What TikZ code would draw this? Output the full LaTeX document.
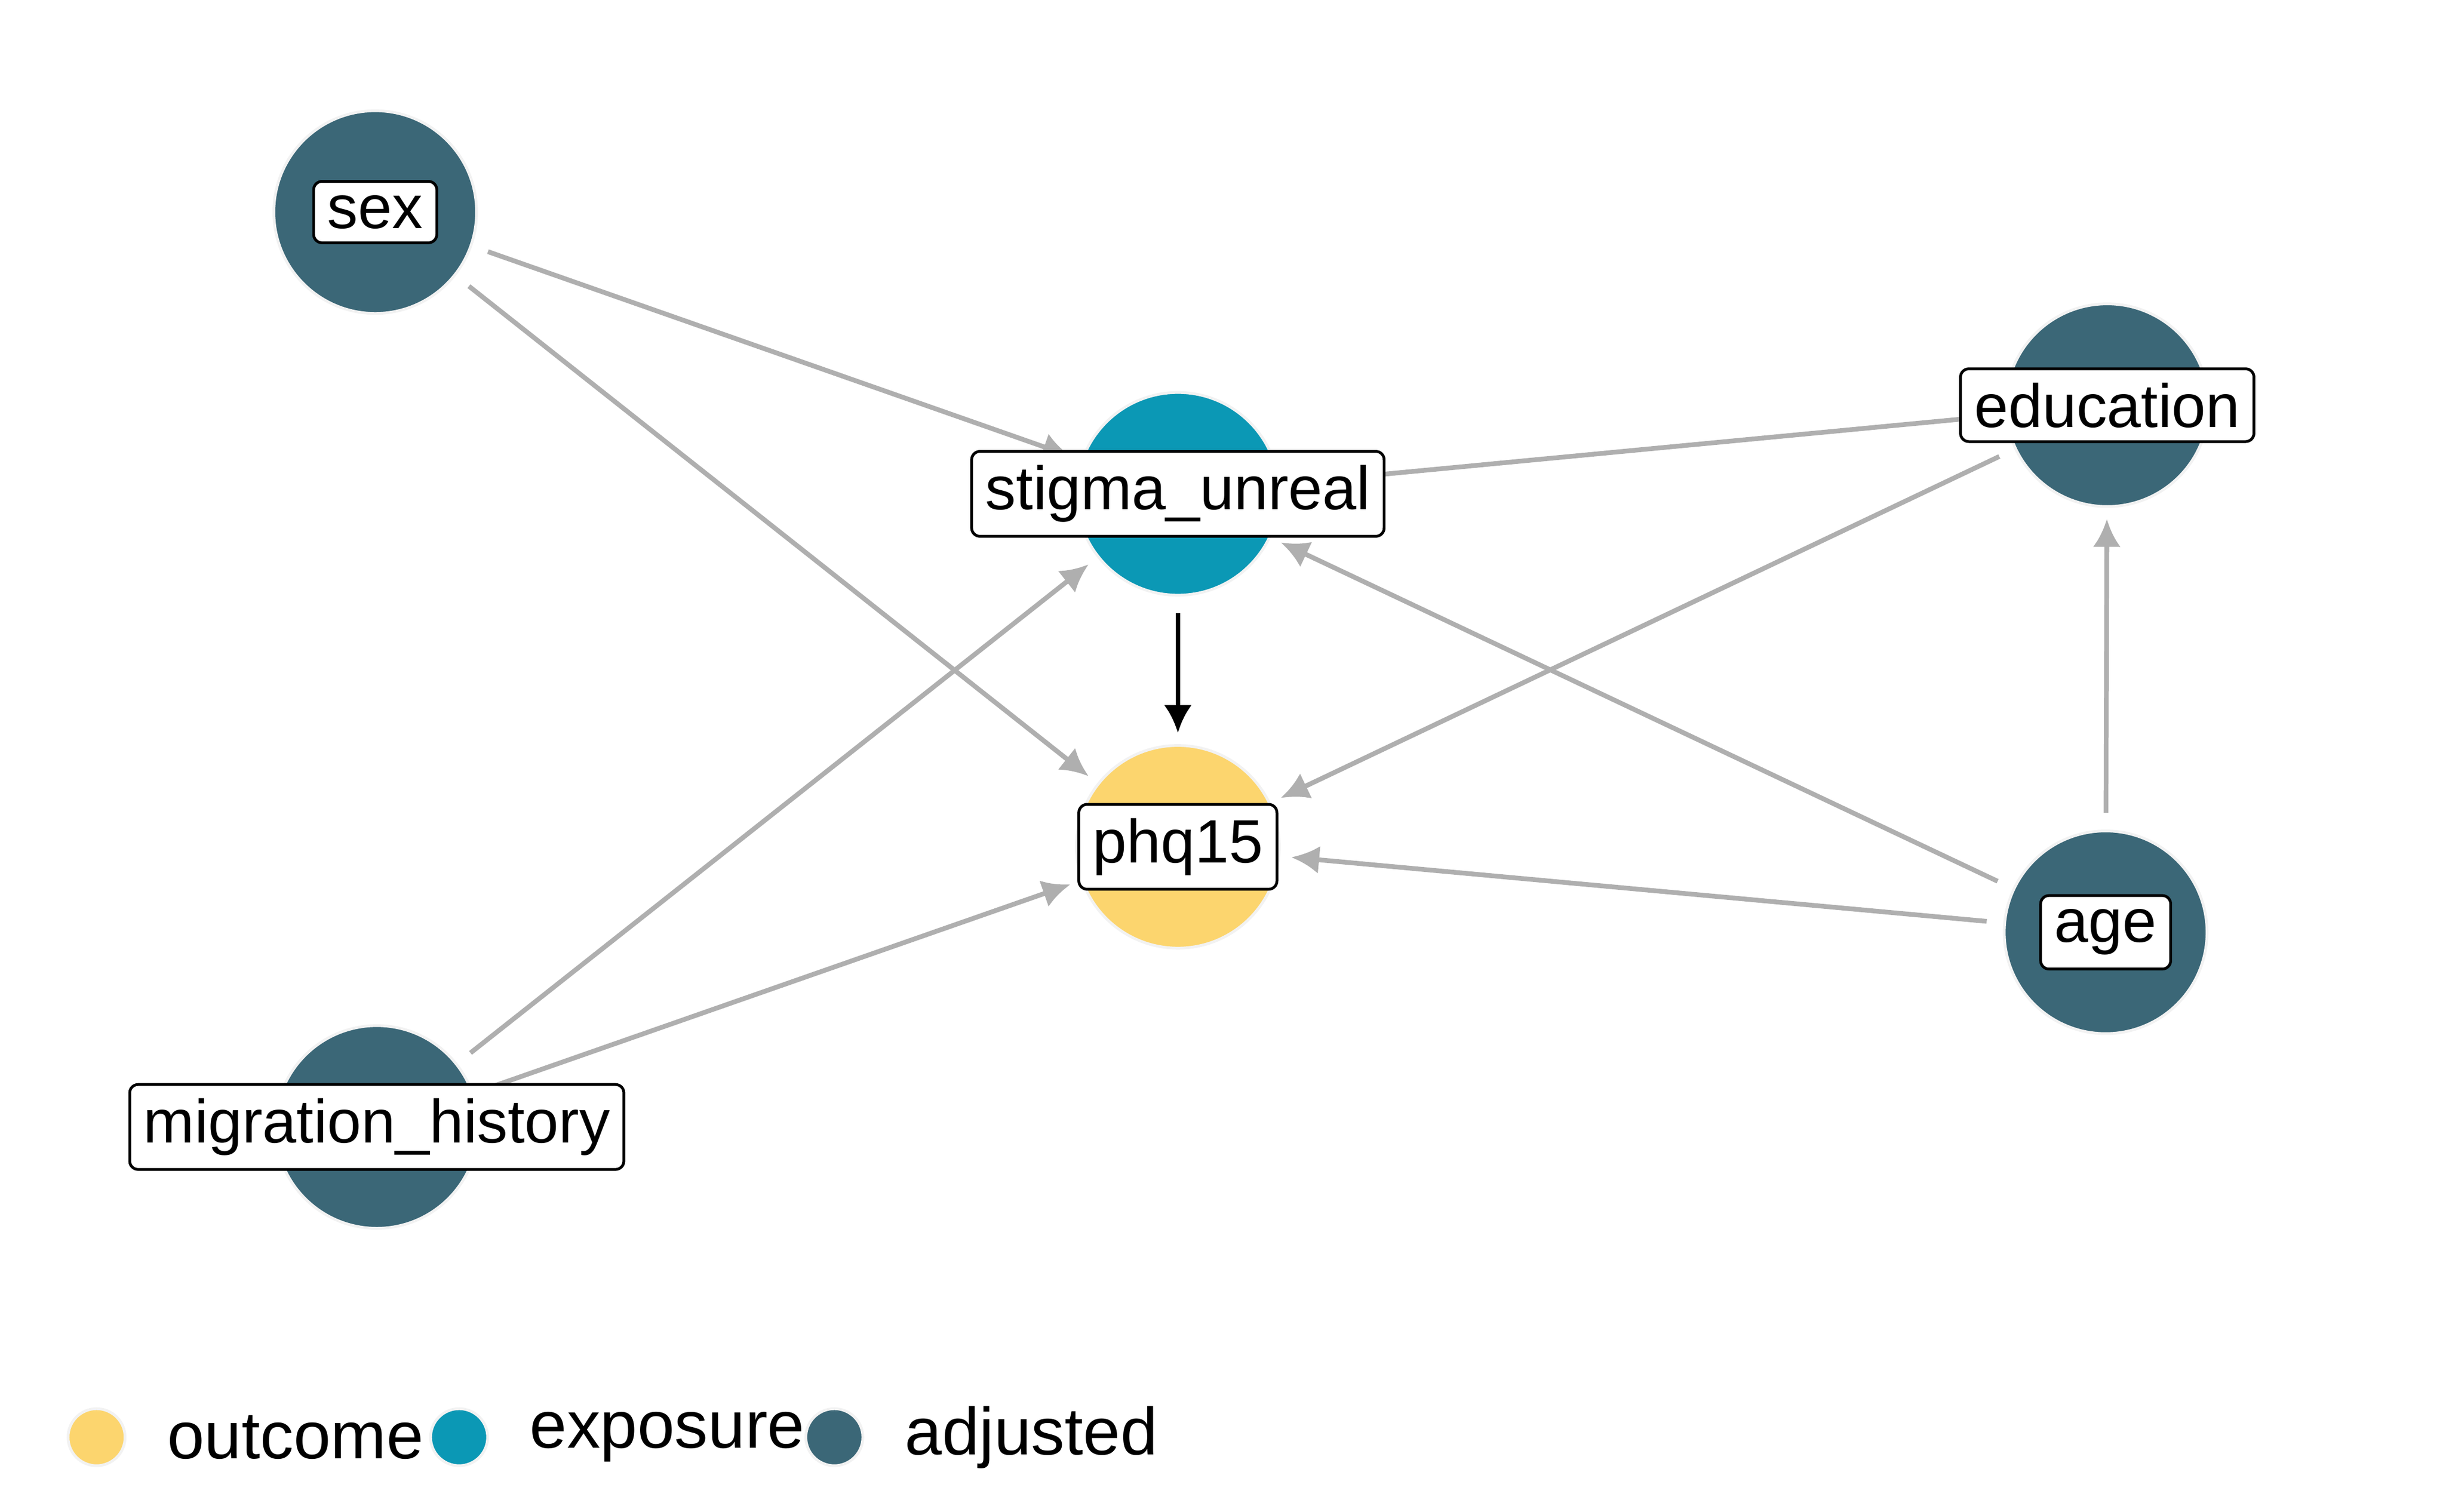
\documentclass[tikz,border=0pt]{standalone}
\usepackage{fontspec}
\setmainfont{Liberation Sans}
\usetikzlibrary{arrows.meta}
\definecolor{adj}{HTML}{3B6777}
\definecolor{expo}{HTML}{0B98B5}
\definecolor{outc}{HTML}{FCD56E}
\definecolor{edge}{HTML}{AFAFAF}
\begin{document}
\begin{tikzpicture}[x=0.01cm,y=-0.01cm,
  dot/.style={circle,minimum size=1.28cm,inner sep=0,draw=white!90!gray,line width=0.5pt},
  lab/.style={draw=black,fill=white,rounded corners=1.5pt,line width=0.5pt,font=\fontsize{11}{13}\selectfont,inner sep=2.5pt},
  e/.style={draw=edge,line width=0.85pt,-{Latex[length=5pt,width=5pt]},shorten >=2pt,shorten <=3pt},
  leg/.style={circle,minimum size=0.36cm,inner sep=0,draw=white!90!gray,line width=0.5pt},
  legt/.style={anchor=west,font=\fontsize{12}{14}\selectfont,inner sep=0}]
\path[use as bounding box] (0,0) rectangle (1545,955);
\node[dot,fill=adj] (sex) at (237,134) {};
\node[dot,fill=expo] (st) at (744,312) {};
\node[dot,fill=adj] (ed) at (1331,256) {};
\node[dot,fill=outc] (ph) at (744,535) {};
\node[dot,fill=adj] (age) at (1330,589) {};
\node[dot,fill=adj] (mig) at (238,712) {};
\draw[e] (sex) -- (st);
\draw[e] (sex) -- (ph);
\draw[e] (ed) -- (st);
\draw[e] (ed) -- (ph);
\draw[e] (age) -- (st);
\draw[e] (age) -- (ph);
\draw[e] (age) -- (ed);
\draw[e] (mig) -- (st);
\draw[e] (mig) -- (ph);
\draw[e,draw=black] (st) -- (ph);
\node[lab] (lsex) at (237,134) {sex};
\node[lab] (lst) at (744,312) {stigma\_unreal};
\node[lab] (led) at (1331,256) {education};
\node[lab] (lph) at (744,535) {phq15};
\node[lab] (lage) at (1330,589) {age};
\node[lab] (lmig) at (238,712) {migration\_history};
\node[leg,fill=outc] (g1) at (61,908) {};
\node[legt] (t1) at (105,908) {outcome};
\node[leg,fill=expo] (g2) at (290,908) {};
\node[legt] (t2) at (334,908) {exposure};
\node[leg,fill=adj] (g3) at (527,908) {};
\node[legt] (t3) at (571,908) {adjusted};
\end{tikzpicture}
\end{document}
